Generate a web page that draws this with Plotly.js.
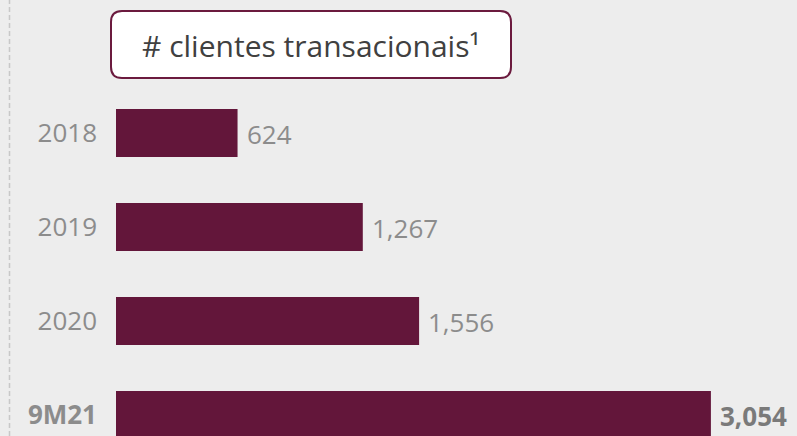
<!DOCTYPE html>
<html>
<head>
<meta charset="utf-8">
<script src="https://cdn.plot.ly/plotly-3.0.1.min.js"></script>
<style>html,body{margin:0;padding:0;background:#ededed;}#chart{width:797px;height:436px;}</style>
</head>
<body>
<div id="chart"></div>
<script>
const categories = ["2018", "2019", "2020", "9M21"];
const values = [624, 1267, 1556, 3054];
const valueLabels = ["624", "1,267", "1,556", "<b>3,054</b>"];
const tickLabels = ["2018", "2019", "2020", "<b>9M21</b>"];
const titleText = "# clientes transacionais¹";

const W = 797, H = 436, L = 116;
const PW = W - L;
function px(x){ return (x - L) / PW; }
function py(y){ return 1 - y / H; }

// rounded rect for title box
const bx0 = 111, bx1 = 511, by0 = 11, by1 = 78, r = 11;
function P(x, y){ return px(x) + "," + py(y); }
const path = "M" + P(bx0 + r, by0) + " L" + P(bx1 - r, by0) +
  " Q" + P(bx1, by0) + " " + P(bx1, by0 + r) +
  " L" + P(bx1, by1 - r) + " Q" + P(bx1, by1) + " " + P(bx1 - r, by1) +
  " L" + P(bx0 + r, by1) + " Q" + P(bx0, by1) + " " + P(bx0, by1 - r) +
  " L" + P(bx0, by0 + r) + " Q" + P(bx0, by0) + " " + P(bx0 + r, by0) + " Z";

const idx = categories.map((c, i) => i);

const trace = {
  type: "bar",
  orientation: "h",
  x: values,
  y: idx,
  width: 0.51,
  marker: {color: "#63163a"},
  hoverinfo: "none"
};

const annotations = values.map((v, i) => ({
  x: v, y: i, xref: "x", yref: "y",
  text: valueLabels[i], showarrow: false,
  xanchor: "left", xshift: 7, yshift: -1,
  font: {family: "Open Sans, sans-serif", size: 26, color: i === 3 ? "#7a7a7a" : "#8c8c8c"}
}));
annotations.push({
  x: px(311), y: py(45), xref: "paper", yref: "paper",
  text: titleText, showarrow: false, xanchor: "center", yanchor: "middle",
  font: {family: "Open Sans, sans-serif", size: 30, color: "#404040"}
});

const layout = {
  width: W, height: H,
  margin: {l: L, r: 0, t: 0, b: 0},
  paper_bgcolor: "#ededed",
  plot_bgcolor: "#ededed",
  showlegend: false,
  xaxis: {range: [0, 3496], visible: false, fixedrange: true},
  yaxis: {
    range: [3.223, -1.415],
    tickvals: idx, ticktext: tickLabels,
    showgrid: false, zeroline: false, showline: false,
    ticks: "", ticklabelstandoff: 18,
    tickfont: {family: "Open Sans, sans-serif", size: 26, color: "#8c8c8c"}
  },
  shapes: [
    {type: "line", xref: "paper", yref: "paper", x0: px(9.5), x1: px(9.5), y0: 0, y1: 1,
     line: {color: "#c8c8c8", width: 1.5, dash: "5px,3px"}},
    {type: "path", xref: "paper", yref: "paper", path: path,
     fillcolor: "#ffffff", line: {color: "#6b1a3e", width: 2}}
  ],
  annotations: annotations
};

Plotly.newPlot("chart", [trace], layout, {displayModeBar: false, staticPlot: true});
</script>
</body>
</html>
